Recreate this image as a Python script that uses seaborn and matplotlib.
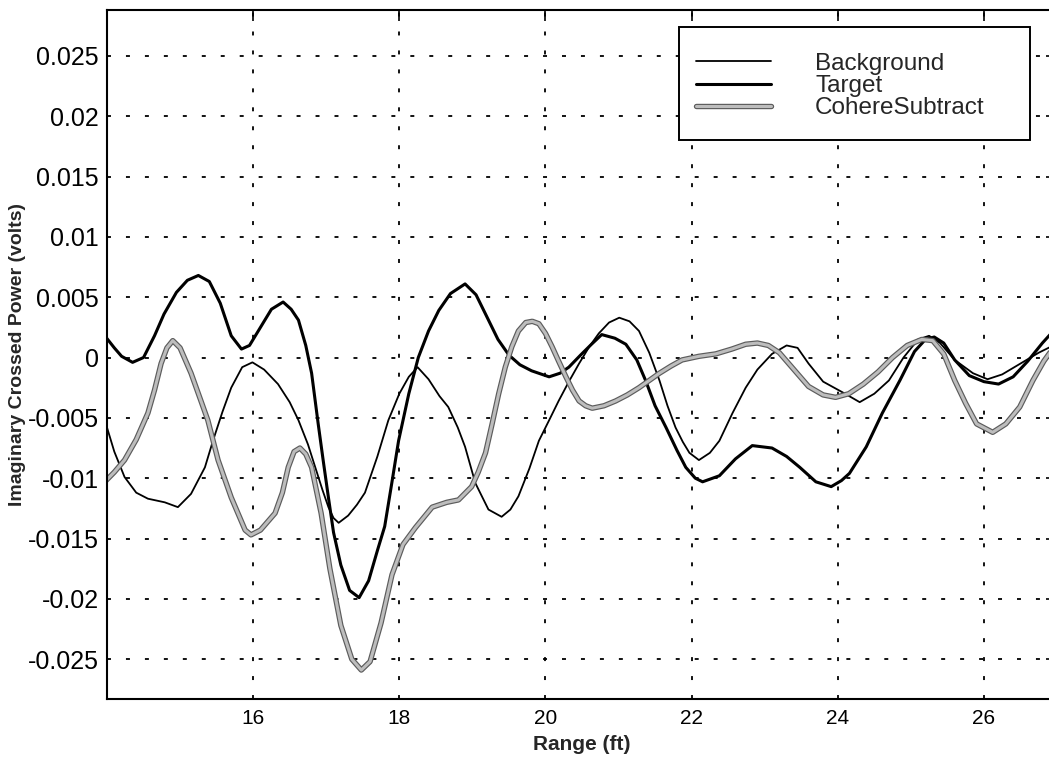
import matplotlib
matplotlib.use("Agg")
import matplotlib.pyplot as plt
import matplotlib.patheffects as pe
from matplotlib.patches import Rectangle
import seaborn as sns

# values (x in ft, y in volts)
bg_x = [13.97, 14.1, 14.24, 14.4, 14.56, 14.79, 14.97, 15.15, 15.34, 15.45, 15.58, 15.7, 15.85, 15.99,
        16.15, 16.34, 16.5, 16.62, 16.75, 16.85, 16.95, 17.03, 17.1, 17.17, 17.3, 17.42, 17.53, 17.7,
        17.85, 18.0, 18.13, 18.25, 18.4, 18.55, 18.67, 18.8, 18.9, 19.04, 19.22, 19.4, 19.52, 19.63,
        19.78, 19.91, 20.05, 20.18, 20.32, 20.46, 20.6, 20.73, 20.87, 21.01, 21.15, 21.28, 21.42, 21.56,
        21.67, 21.78, 21.88, 21.97, 22.1, 22.25, 22.38, 22.56, 22.74, 22.9, 23.1, 23.3, 23.45, 23.6,
        23.8, 24.1, 24.3, 24.5, 24.7, 24.9, 25.1, 25.25, 25.4, 25.6, 25.85, 26.05, 26.25, 26.5, 26.75, 26.95]
bg_y = [-0.0052, -0.0078, -0.0099, -0.0112, -0.0117, -0.0120, -0.0124, -0.0113, -0.0091, -0.0069, -0.0045,
        -0.0025, -0.0008, -0.0004, -0.0010, -0.0022, -0.0037, -0.0052, -0.0072, -0.0091, -0.0110, -0.0124,
        -0.0133, -0.0137, -0.0131, -0.0122, -0.0112, -0.0082, -0.0052, -0.0030, -0.0016, -0.0008, -0.0018,
        -0.0032, -0.0041, -0.0058, -0.0074, -0.0104, -0.0126, -0.0132, -0.0126, -0.0115, -0.0092, -0.0069,
        -0.0052, -0.0036, -0.0020, -0.0005, 0.0009, 0.0020, 0.0029, 0.0033, 0.0030, 0.0022, 0.0004, -0.0019,
        -0.0040, -0.0058, -0.0070, -0.0079, -0.0085, -0.0079, -0.0069, -0.0046, -0.0025, -0.0010, 0.0003,
        0.0010, 0.0008, -0.0005, -0.0020, -0.0030, -0.0037, -0.0030, -0.0019, 0.0000, 0.0015, 0.0018,
        0.0012, -0.0002, -0.0013, -0.0018, -0.0014, -0.0005, 0.0004, 0.0010]

tg_x = [13.97, 14.1, 14.2, 14.35, 14.5, 14.65, 14.78, 14.95, 15.1, 15.25, 15.4, 15.55, 15.7, 15.84, 15.95,
        16.1, 16.25, 16.41, 16.52, 16.62, 16.72, 16.8, 16.89, 16.96, 17.03, 17.1, 17.2, 17.32, 17.45, 17.58,
        17.7, 17.8, 17.9, 17.99, 18.13, 18.26, 18.4, 18.54, 18.7, 18.9, 19.05, 19.18, 19.35, 19.5, 19.65,
        19.81, 20.05, 20.2, 20.32, 20.48, 20.63, 20.77, 20.95, 21.1, 21.25, 21.37, 21.5, 21.65, 21.8, 21.92,
        22.05, 22.15, 22.38, 22.6, 22.83, 23.1, 23.3, 23.48, 23.7, 23.91, 24.05, 24.16, 24.39, 24.61, 24.85,
        25.05, 25.2, 25.32, 25.45, 25.6, 25.8, 26.0, 26.2, 26.4, 26.6, 26.8, 26.95]
tg_y = [0.0018, 0.0008, 0.0001, -0.0004, 0.0000, 0.0018, 0.0036, 0.0054, 0.0064, 0.0068, 0.0063, 0.0045,
        0.0018, 0.0007, 0.0010, 0.0025, 0.0040, 0.0046, 0.0040, 0.0031, 0.0010, -0.0013, -0.0055, -0.0086,
        -0.0116, -0.0145, -0.0172, -0.0193, -0.0199, -0.0185, -0.0160, -0.0140, -0.0103, -0.0069, -0.0030,
        0.0000, 0.0022, 0.0039, 0.0053, 0.0061, 0.0052, 0.0036, 0.0015, 0.0002, -0.0006, -0.0011, -0.0016,
        -0.0013, -0.0008, 0.0002, 0.0011, 0.0019, 0.0016, 0.0011, -0.0002, -0.0019, -0.0040, -0.0058,
        -0.0077, -0.0091, -0.0100, -0.0103, -0.0098, -0.0084, -0.0073, -0.0075, -0.0082, -0.0091, -0.0103,
        -0.0107, -0.0102, -0.0096, -0.0074, -0.0046, -0.0019, 0.0005, 0.0015, 0.0017, 0.0012, -0.0002,
        -0.0015, -0.0020, -0.0022, -0.0016, -0.0003, 0.0012, 0.0022]

cs_x = [13.97, 14.1, 14.24, 14.4, 14.56, 14.65, 14.74, 14.82, 14.9, 15.0, 15.15, 15.28, 15.38, 15.52, 15.7,
        15.89, 15.97, 16.1, 16.3, 16.4, 16.48, 16.56, 16.64, 16.72, 16.8, 16.93, 17.05, 17.2, 17.35, 17.48,
        17.6, 17.75, 17.9, 18.05, 18.22, 18.45, 18.65, 18.81, 18.99, 19.08, 19.18, 19.27, 19.36, 19.45,
        19.54, 19.63, 19.73, 19.82, 19.91, 20.0, 20.09, 20.18, 20.28, 20.37, 20.46, 20.55, 20.64, 20.8,
        20.96, 21.12, 21.28, 21.42, 21.56, 21.72, 21.87, 22.1, 22.33, 22.55, 22.74, 22.9, 23.05, 23.2, 23.4,
        23.6, 23.8, 23.97, 24.15, 24.35, 24.55, 24.75, 24.95, 25.15, 25.3, 25.45, 25.6, 25.75, 25.9, 26.12,
        26.3, 26.49, 26.67, 26.82, 26.95]
cs_y = [-0.0103, -0.0095, -0.0085, -0.0068, -0.0046, -0.0027, -0.0005, 0.0008, 0.0014, 0.0008, -0.0013,
        -0.0035, -0.0052, -0.0085, -0.0116, -0.0143, -0.0147, -0.0143, -0.0129, -0.0112, -0.0091, -0.0078,
        -0.0075, -0.0080, -0.0091, -0.0129, -0.0175, -0.0222, -0.0250, -0.0259, -0.0252, -0.0220, -0.0180,
        -0.0155, -0.0141, -0.0124, -0.0120, -0.0118, -0.0107, -0.0095, -0.0079, -0.0055, -0.0030, -0.0008,
        0.0009, 0.0022, 0.0029, 0.0030, 0.0028, 0.0020, 0.0009, -0.0003, -0.0016, -0.0027, -0.0036, -0.0040,
        -0.0042, -0.0040, -0.0036, -0.0031, -0.0025, -0.0019, -0.0013, -0.0007, -0.0002, 0.0001, 0.0003,
        0.0007, 0.0011, 0.0012, 0.0010, 0.0004, -0.0010, -0.0024, -0.0031, -0.0033, -0.0030, -0.0022,
        -0.0012, 0.0000, 0.0010, 0.0015, 0.0014, 0.0003, -0.0019, -0.0038, -0.0055, -0.0062, -0.0055,
        -0.0041, -0.0019, -0.0003, 0.0008]

x_ticks = [16, 18, 20, 22, 24, 26]
y_ticks = [0.025, 0.02, 0.015, 0.01, 0.005, 0, -0.005, -0.01, -0.015, -0.02, -0.025]
y_ticklabels = ["0.025", "0.02", "0.015", "0.01", "0.005", "0", "-0.005", "-0.01", "-0.015", "-0.02", "-0.025"]

sns.set_style("white")
plt.rcParams['font.family'] = ['Liberation Sans', 'DejaVu Sans']

W, H = 1049, 763
fig = plt.figure(figsize=(W / 100, H / 100), dpi=100)
ax = fig.add_axes([107 / W, 1 - 699 / H, 950 / W, 689 / H])

sns.lineplot(x=bg_x, y=bg_y, ax=ax, color="black", linewidth=1.3, sort=False, estimator=None, label="Background")
sns.lineplot(x=tg_x, y=tg_y, ax=ax, color="black", linewidth=2.2, sort=False, estimator=None, label="Target")
sns.lineplot(x=cs_x, y=cs_y, ax=ax, color="#bdbdbd", linewidth=2.2, sort=False, estimator=None,
             label="CohereSubtract",
             path_effects=[pe.Stroke(linewidth=3.9, foreground="#5c5c5c"), pe.Normal()])
handles, labels = ax.get_legend_handles_labels()
if ax.get_legend() is not None:
    ax.get_legend().remove()

ax.set_xlim(14, 27)
ax.set_ylim(-0.0283, 0.0288)
ax.set_xticks(x_ticks)
ax.set_yticks(y_ticks)
ax.set_yticklabels(y_ticklabels)
ax.tick_params(direction="in", length=8, width=1.2, top=True, right=True, colors="black")
ax.tick_params(axis="y", labelsize=18, pad=6)
ax.tick_params(axis="x", labelsize=15, pad=7)
ax.grid(True, color="black", linestyle=(0, (2.2, 8.3)), linewidth=1.3)
for s in ax.spines.values():
    s.set_color("black")
    s.set_linewidth(1.5)

ax.set_xlabel("Range (ft)", fontsize=15, fontweight="bold")
ax.xaxis.set_label_coords(0.5, -0.052)
ax.set_ylabel("Imaginary Crossed Power (volts)", fontsize=14, fontweight="bold")
ax.yaxis.set_label_coords(-0.085, 0.5)

# legend box (MATLAB-style, with tall top padding)
box = Rectangle((679 / W, 1 - 140 / H), (1030 - 679) / W, (140 - 27) / H, transform=fig.transFigure,
                facecolor="white", edgecolor="black", linewidth=1.4, zorder=5)
fig.add_artist(box)
leg = fig.legend(handles, labels, loc="center left", bbox_to_anchor=(696 / W, 1 - 86 / H),
                 fontsize=17.5, frameon=False, handlelength=3.1, handletextpad=1.8,
                 borderpad=0, labelspacing=0.0, borderaxespad=0)
leg.set_zorder(6)

fig.savefig("out.png", dpi=100)
